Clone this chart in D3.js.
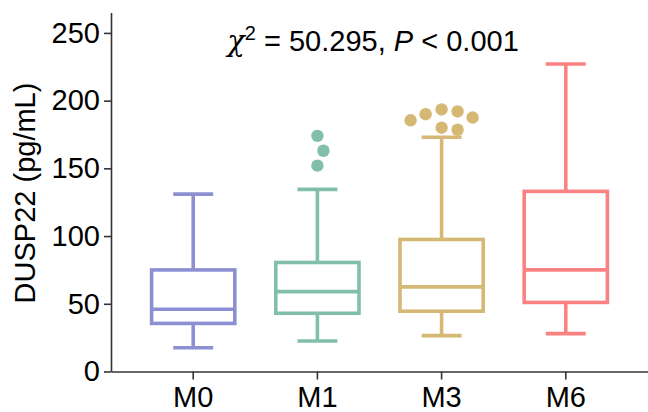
<!DOCTYPE html>
<html>
<head>
<meta charset="utf-8">
<script src="https://cdn.jsdelivr.net/npm/d3@7"></script>
<style>
  html, body { margin: 0; padding: 0; background: #fff; }
  svg { display: block; }
</style>
</head>
<body>
<svg id="chart" width="648" height="412"></svg>
<script>
// ---- data ----
const categories = ["M0", "M1", "M3", "M6"];
const whiskerLow  = [17.5, 22.5, 26.5, 28];
const quartile1   = [35.5, 43, 44.5, 51];
const medians     = [46, 59, 62.5, 75];
const quartile3   = [75, 80.5, 97.5, 133];
const whiskerHigh = [131, 134.5, 173, 227];
const outliersM0 = [];
const outliersM1 = [174, 163, 152];
const outliersM3 = [193.5, 192, 190, 187.5, 185.5, 180, 178.5];
const outliersM6 = [];
const yTicks = [0, 50, 100, 150, 200, 250];
const colors = ["#8c90d2", "#82bfab", "#d4b873", "#fa8282"];

const outliers = [outliersM0, outliersM1, outliersM3, outliersM6];

(function () {
// ---- layout ----
const svg = d3.select("#chart");
const font = "'Liberation Sans', Arial, sans-serif";
const mLeft = 111, mRight = 648, mBottom = 371.5, mTop = 12.6;

const x = d3.scaleBand().domain(categories).range([mLeft, mRight])
  .paddingInner(0.33).paddingOuter(0.327);
const y = d3.scaleLinear().domain([0, 265]).range([mBottom, mTop]);

const axisColor = "#333";

// y axis
const gy = svg.append("g").attr("transform", `translate(${mLeft},0)`)
  .call(d3.axisLeft(y).tickValues(yTicks).tickSize(7).tickSizeOuter(0).tickPadding(4));
gy.select(".domain").attr("stroke", axisColor).attr("stroke-width", 1.6);
gy.selectAll(".tick line").attr("stroke", axisColor).attr("stroke-width", 1.6);
gy.selectAll(".tick text").attr("font-family", font).attr("font-size", 29).attr("fill", "#000");

// x axis
const gx = svg.append("g").attr("transform", `translate(0,${mBottom})`)
  .call(d3.axisBottom(x).tickSize(8).tickSizeOuter(0).tickPadding(7));
gx.select(".domain").attr("stroke", axisColor).attr("stroke-width", 1.6);
gx.selectAll(".tick line").attr("stroke", axisColor).attr("stroke-width", 1.6);
gx.selectAll(".tick text").attr("font-family", font).attr("font-size", 29).attr("fill", "#000");

// y label
svg.append("text")
  .attr("transform", "translate(35,193) rotate(-90)")
  .attr("text-anchor", "middle")
  .attr("font-family", font).attr("font-size", 29).attr("fill", "#000")
  .text("DUSP22 (pg/mL)");

// title
const title = svg.append("text")
  .attr("x", 373).attr("y", 51)
  .attr("text-anchor", "middle")
  .attr("font-family", font).attr("font-size", 29).attr("fill", "#000");
title.append("tspan").attr("font-style", "italic").attr("font-family", "'DejaVu Serif', serif").text("χ");
title.append("tspan").attr("font-size", 20).attr("dy", -11).text("2");
title.append("tspan").attr("dy", 11).text(" = 50.295, ");
title.append("tspan").attr("font-style", "italic").text("P");
title.append("tspan").text(" < 0.001");

// boxes
const sw = 3.6;
const bw = x.bandwidth();
const capW = bw * 0.48;
categories.forEach((c, i) => {
  const cx = x(c) + bw / 2;
  const g = svg.append("g").attr("stroke", colors[i]).attr("stroke-width", sw).attr("fill", "none");
  g.append("line").attr("x1", cx).attr("x2", cx).attr("y1", y(quartile3[i])).attr("y2", y(whiskerHigh[i]));
  g.append("line").attr("x1", cx).attr("x2", cx).attr("y1", y(quartile1[i])).attr("y2", y(whiskerLow[i]));
  g.append("line").attr("x1", cx - capW / 2).attr("x2", cx + capW / 2).attr("y1", y(whiskerHigh[i])).attr("y2", y(whiskerHigh[i]));
  g.append("line").attr("x1", cx - capW / 2).attr("x2", cx + capW / 2).attr("y1", y(whiskerLow[i])).attr("y2", y(whiskerLow[i]));
  g.append("rect").attr("x", x(c)).attr("width", bw)
    .attr("y", y(quartile3[i])).attr("height", y(quartile1[i]) - y(quartile3[i]))
    .attr("fill", "#fff");
  g.append("line").attr("x1", x(c)).attr("x2", x(c) + bw).attr("y1", y(medians[i])).attr("y2", y(medians[i]));

  // outliers with a simple dodge (beeswarm) layout
  const r = 6.2, D = 16;
  const placed = [];
  outliers[i].slice().sort((a, b) => b - a).forEach(v => {
    const py = y(v);
    let off = 0;
    for (let k = 0; k < 400; k++) {
      const cand = (k % 2 === 1 ? 1 : -1) * Math.ceil(k / 2);
      const ok = placed.every(p => Math.hypot(p.dx - cand, p.py - py) >= D);
      if (ok) { off = cand; break; }
    }
    placed.push({ dx: off, py });
  });
  svg.append("g").selectAll("circle").data(placed).join("circle")
    .attr("cx", d => cx + d.dx).attr("cy", d => d.py).attr("r", r)
    .attr("fill", colors[i]);
});
})();
</script>
</body>
</html>
